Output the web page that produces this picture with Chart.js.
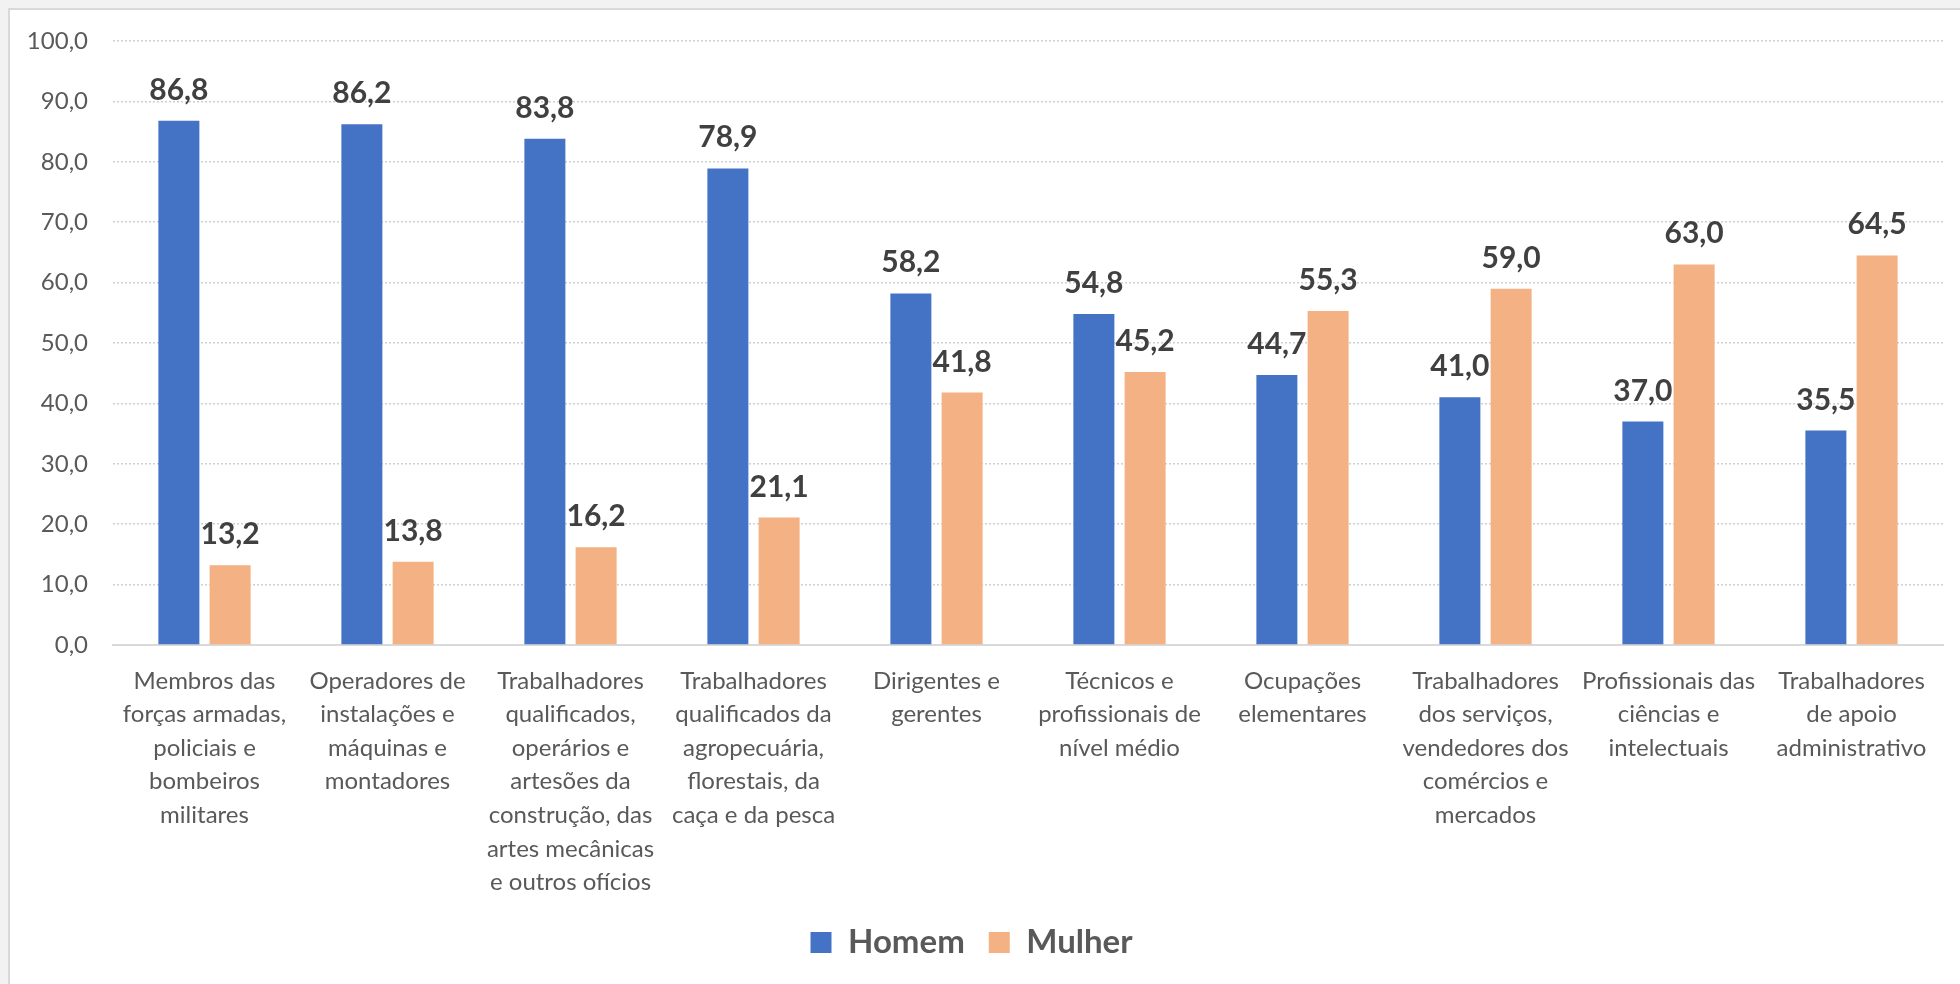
<!DOCTYPE html>
<html>
<head>
<meta charset="utf-8">
<script src="https://cdn.jsdelivr.net/npm/chart.js@4"></script>
<style>
  html, body { margin: 0; padding: 0; background: #f2f2f2; }
  #frame { position: absolute; left: 8px; top: 8px; width: 1960px; height: 984px; background: #fff;
           border-left: 2px solid #d9d9d9; border-top: 2px solid #d9d9d9; }
  #chart { position: absolute; left: 0; top: 0; }
</style>
</head>
<body>
<div id="frame"></div>
<canvas id="chart" width="1960" height="984"></canvas>
<script>
  const categories = [
    ['Membros das', 'forças armadas,', 'policiais e', 'bombeiros', 'militares'],
    ['Operadores de', 'instalações e', 'máquinas e', 'montadores'],
    ['Trabalhadores', 'qualificados,', 'operários e', 'artesões da', 'construção, das', 'artes mecânicas', 'e outros ofícios'],
    ['Trabalhadores', 'qualificados da', 'agropecuária,', 'florestais, da', 'caça e da pesca'],
    ['Dirigentes e', 'gerentes'],
    ['Técnicos e', 'profissionais de', 'nível médio'],
    ['Ocupações', 'elementares'],
    ['Trabalhadores', 'dos serviços,', 'vendedores dos', 'comércios e', 'mercados'],
    ['Profissionais das', 'ciências e', 'intelectuais'],
    ['Trabalhadores', 'de apoio', 'administrativo']
  ];
  const homem = [86.8, 86.2, 83.8, 78.9, 58.2, 54.8, 44.7, 41.0, 37.0, 35.5];
  const mulher = [13.2, 13.8, 16.2, 21.1, 41.8, 45.2, 55.3, 59.0, 63.0, 64.5];

  const fmt = v => Number(v).toFixed(1).replace('.', ',');
  const FONT = 'Lato, "Open Sans", sans-serif';

  // value labels above the bars
  const valueLabels = {
    id: 'valueLabels',
    afterDatasetsDraw(chart) {
      const ctx = chart.ctx;
      ctx.save();
      ctx.font = 'bold 30px ' + FONT;
      ctx.fillStyle = '#404040';
      ctx.textAlign = 'center';
      ctx.textBaseline = 'alphabetic';
      chart.data.datasets.forEach((ds, i) => {
        chart.getDatasetMeta(i).data.forEach((bar, j) => {
          ctx.fillText(fmt(ds.data[j]), bar.x, bar.y - 21);
        });
      });
      ctx.restore();
    }
  };

  new Chart(document.getElementById('chart'), {
    type: 'bar',
    data: {
      labels: categories,
      datasets: [{
        label: 'Homem',
        data: homem,
        backgroundColor: '#4472C4',
        categoryPercentage: 0.56,
        barPercentage: 0.8
      }, {
        label: 'Mulher',
        data: mulher,
        backgroundColor: '#F4B183',
        categoryPercentage: 0.56,
        barPercentage: 0.8
      }]
    },
    options: {
      responsive: false,
      animation: false,
      layout: {
        padding: { top: 41, right: 17, left: 0, bottom: 15 }
      },
      plugins: {
        legend: {
          position: 'bottom',
          labels: {
            boxWidth: 21,
            boxHeight: 21,
            padding: 24,
            color: '#595959',
            font: { family: FONT, size: 33, weight: 'bold' }
          }
        },
        tooltip: { enabled: false }
      },
      scales: {
        x: {
          grid: { display: false, drawTicks: false },
          border: { display: true, color: '#d9d9d9', width: 2 },
          ticks: {
            autoSkip: false,
            minRotation: 0,
            maxRotation: 0,
            padding: 19,
            color: '#595959',
            font: { family: FONT, size: 24, lineHeight: 1.4 }
          },
          afterFit: scale => { scale.height = 257; }
        },
        y: {
          min: 0,
          max: 100,
          grid: { color: '#d0d0d0', lineWidth: 1.5, drawTicks: false },
          border: { display: false, dash: [2, 2] },
          ticks: {
            stepSize: 10,
            padding: 25,
            color: '#595959',
            font: { family: FONT, size: 24 },
            callback: v => fmt(v)
          },
          afterFit: scale => { scale.width = 113; }
        }
      }
    },
    plugins: [valueLabels]
  });
</script>
</body>
</html>
